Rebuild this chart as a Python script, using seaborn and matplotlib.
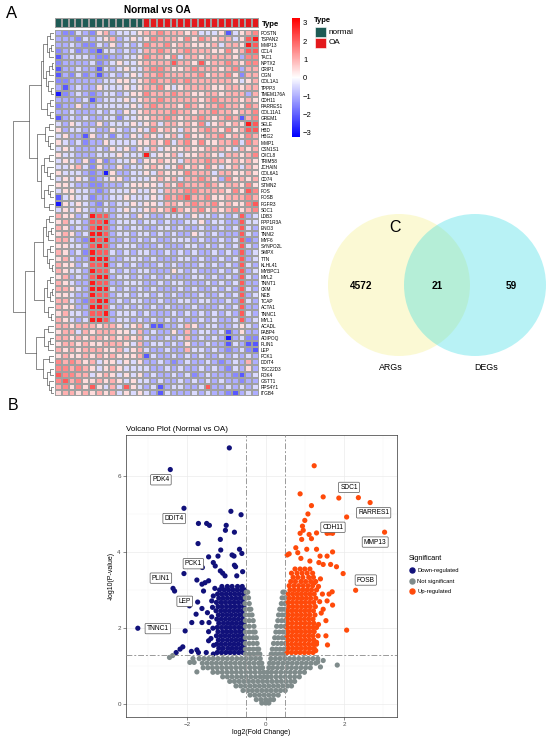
import numpy as np
import pandas as pd
import seaborn as sns
import matplotlib.pyplot as plt
from matplotlib.colors import LinearSegmentedColormap, ListedColormap
from matplotlib.patches import Circle
from matplotlib.lines import Line2D

plt.rcParams['font.family'] = ['Liberation Sans', 'DejaVu Sans']

W, H = 550, 738

# ---------------- panel A data ----------------
genes = ['POSTN', 'TSPAN2', 'MMP13', 'CCL4', 'TAC1', 'NPTX2', 'CRIP1', 'OGN', 'COL1A1', 'TPPP3',
         'TMEM176A', 'CDH11', 'RARRES1', 'COL11A1', 'GREM1', 'SELE', 'HBD', 'HBG2', 'MMP1', 'CSN1S1',
         'CXCL8', 'TRIM58', 'JCHAIN', 'COL6A1', 'CD74', 'STMN2', 'FOS', 'FOSB', 'FGFR3', 'SDC1',
         'LDB3', 'PPP1R3A', 'ENO3', 'TNNI2', 'MYF6', 'SYNPO2L', 'SMPX', 'TTN', 'KLHL41', 'MYBPC1',
         'MYL2', 'TNNT1', 'CKM', 'NEB', 'TCAP', 'ACTA1', 'TNNC1', 'MYL1', 'ACADL', 'FABP4',
         'ADIPOQ', 'PLIN1', 'LEP', 'PCK1', 'DDIT4', 'TSC22D3', 'PDK4', 'GSTT1', 'RPS4Y1', 'ITGB4']
n_normal, n_oa = 13, 17
# z-score level per cell (digit -> level_values), normal | OA
level_values = [-2.9, -2.1, -1.5, -1.0, -0.45, 0.45, 1.0, 1.5, 2.1, 2.9]
heat_rows = [
    '3224325634445|66766656444514567', '3332434563454|57666575765664589',
    '3343224353434|76675665556466598', '2342321443434|66765676665575688',
    '1344432233445|76657466566665377', '2333342345445|66668665856676577',
    '1334331434544|67765567666567366', '1324231343454|66766666756675266',
    '2233333445545|67667676666665456', '3134335444545|66754566665566566',
    '0234323443455|76667665566566636', '3333413444545|66766666567666565',
    '2335334444454|67666576566766576', '3343334343545|66667665667665667',
    '1343433442445|56676566765676167', '4354335344454|56466565745656598',
    '5344343354345|47565465676575688', '4533153424354|65456475566756576',
    '5434233544445|56574675755667476', '4543334354535|46455565566654656',
    '5443334445444|94556455665466567', '4543525234453|55655466676656565',
    '4456425335344|56545756575456465', '5444323053344|54655576664665565',
    '4545423455344|45656466765375656', '5543322333455|55465766676566575',
    '4554432344454|45466677666657587', '1454423344544|45476786675566676',
    '0545432434454|55466567667565578', '4545433434544|56568656756567567',
    '6553498834435|43344435443434834', '5644388934443|44343344534433844',
    '6534389834344|33443433433434843', '5653499834434|43434335434333843',
    '6643298933434|34334443433434823', '5544389834443|33433344343434843',
    '6534298843434|43343434334343834', '5643399933444|34333443433434834',
    '6553488934343|33434333434343843', '6544398843434|43335434333434834',
    '5634389934434|34343334434343843', '6543398833444|33434433343434833',
    '6654399943434|34333434334343843', '5543398834434|43434333433434834',
    '6643289934344|33433443443343843', '6553399843434|34343334333434833',
    '5644388934443|43334343434343843', '6543499834434|34343433434334834',
    '6656665665456|41133465344334543', '5664656665546|34335363443413533',
    '6656566565656|43343463434303422', '5665655666546|34434353343314311',
    '6565666556456|43343364434323421', '5655656565556|14334343433434343',
    '7676564554545|33432343343234363', '7767654565444|43343433434324353',
    '8776645654545|34334342343332134', '7867556565454|43433434343433233',
    '6757585464854|34134433483343434', '5665656564545|43143334343321343',
]

# row dendrogram: (height, left, right), leaves = row index
t1 = (0.33, (0.26, (0.18, (0.10, 0, 1), (0.13, (0.07, 2, 3), 4)),
             (0.20, (0.12, (0.06, 5, 6), 7), (0.14, 8, (0.08, 9, 10)))),
      (0.17, (0.09, 11, 12), (0.10, 13, 14)))
t2 = (0.42, (0.22, (0.12, 15, 16), (0.15, 17, (0.10, 18, 19))),
      (0.32, (0.24, (0.13, 20, 21), (0.16, 22, (0.11, 23, 24))),
       (0.25, (0.14, 25, (0.09, 26, 27)), (0.12, 28, 29))))
t_mus = (0.50, (0.28, (0.20, (0.12, 30, 31), (0.15, (0.08, 32, 33), 34)),
                (0.18, (0.10, 35, 36), (0.12, 37, (0.06, 38, 39)))),
         (0.24, (0.16, (0.09, 40, 41), (0.10, (0.05, 42, 43), 44)), (0.14, 45, (0.07, 46, 47))))
t_fat = (0.45, (0.24, (0.14, 48, 49), (0.15, (0.09, 50, 51), 52)),
         (0.26, (0.13, 53, 54), (0.18, (0.10, 55, 56), (0.12, 57, (0.08, 58, 59)))))
row_tree = (1.0, (0.62, t1, t2), (0.72, t_mus, t_fat))

# ---------------- panel C data ----------------
venn_sets = ['ARGs', 'DEGs']
venn_counts = [4572, 21, 59]

# ---------------- panel B data ----------------
down_pts = [(-0.93, 6.75), (-0.89, 5.08), (-0.63, 4.99), (-1.72, 4.76), (-1.51, 4.76), (-1.44, 4.71),
            (-1.01, 4.71), (-1.03, 4.58), (-0.80, 4.53), (-1.16, 4.34), (-1.73, 4.23), (-1.15, 4.06),
            (-0.67, 4.08), (-0.61, 3.97), (-0.86, 3.93), (-0.81, 3.90), (-1.22, 3.90), (-1.46, 3.88),
            (-1.34, 3.73), (-1.29, 3.64), (-0.80, 3.66), (-0.77, 3.62), (-1.16, 3.51), (-1.10, 3.45),
            (-1.04, 3.38), (-0.74, 3.38), (-0.59, 3.49), (-2.09, 3.44), (-1.76, 3.27), (-1.55, 3.20),
            (-1.46, 3.25), (-1.63, 3.16), (-2.33, 2.98), (-1.59, 2.98), (-1.34, 2.85), (-1.38, 2.72),
            (-1.74, 2.69), (-1.63, 2.52), (-1.78, 2.37), (-1.49, 2.41), (-1.89, 2.15), (-1.63, 2.15),
            (-1.45, 2.15), (-2.06, 1.93), (-1.46, 1.91), (-1.40, 1.73), (-1.46, 1.67), (-2.12, 1.51),
            (-2.19, 1.45), (-2.29, 1.36), (-1.90, 1.39), (-1.76, 1.43), (-1.72, 1.36), (-1.52, 1.36),
            (-1.34, 1.32), (-1.38, 2.30), (-1.35, 2.00), (-1.33, 1.55), (-1.36, 2.55), (-1.30, 3.05)]
down_block = [
    (1.36, [-1.24, -1.13, -1.02, -0.91, -0.80, -0.69, -0.58]),
    (1.47, [-1.20, -1.09, -0.97, -0.86, -0.75, -0.64, -0.55]),
    (1.58, [-1.25, -1.14, -1.03, -0.92, -0.81, -0.70, -0.59]),
    (1.69, [-1.21, -1.10, -0.98, -0.87, -0.76, -0.65, -0.55]),
    (1.80, [-1.26, -1.15, -1.04, -0.93, -0.82, -0.71, -0.60]),
    (1.91, [-1.22, -1.10, -0.99, -0.88, -0.77, -0.66, -0.56]),
    (2.02, [-1.24, -1.13, -1.02, -0.91, -0.80, -0.69, -0.58]),
    (2.13, [-1.20, -1.08, -0.97, -0.86, -0.75, -0.64, -0.55]),
    (2.24, [-1.25, -1.14, -1.03, -0.92, -0.81, -0.70, -0.59]),
    (2.35, [-1.21, -1.10, -0.99, -0.88, -0.77, -0.66, -0.56]),
    (2.46, [-1.27, -1.15, -1.04, -0.93, -0.82, -0.71, -0.60]),
    (2.57, [-1.22, -1.11, -1.00, -0.89, -0.78, -0.67, -0.56]),
    (2.68, [-1.26, -1.14, -1.03, -0.92, -0.81, -0.70, -0.59]),
    (2.79, [-1.20, -1.09, -0.98, -0.87, -0.76, -0.65, -0.55]),
    (2.90, [-1.23, -1.12, -1.01, -0.90, -0.79, -0.68, -0.57]),
    (3.01, [-1.18, -1.06, -0.95, -0.84, -0.73, -0.62, -0.54]),
    (3.10, [-1.12, -0.98, -0.86, -0.72, -0.60]),
]
up_pts = [(1.24, 6.28), (0.88, 5.54), (1.47, 5.46), (1.87, 5.43), (1.17, 5.23), (1.08, 5.01),
          (2.07, 4.93), (1.00, 4.84), (0.94, 4.69), (0.96, 4.58), (1.57, 4.50), (1.71, 4.50),
          (1.30, 4.51), (0.88, 4.50), (0.92, 4.34), (1.11, 4.47), (1.17, 4.36), (0.60, 3.96),
          (0.55, 3.93), (0.77, 4.12), (0.82, 3.99), (1.05, 4.08), (1.30, 4.08), (1.39, 3.90),
          (1.71, 4.01), (1.57, 3.90), (0.90, 3.84), (1.13, 3.77), (1.36, 3.73), (1.47, 3.68),
          (1.66, 3.68), (1.81, 3.62), (1.98, 3.44), (1.70, 2.96), (1.62, 2.90), (1.57, 2.72),
          (1.71, 2.61), (1.47, 2.50), (1.54, 2.20), (2.07, 1.95), (1.34, 1.80), (1.54, 1.80),
          (1.30, 1.63), (1.58, 1.56), (1.28, 1.41), (1.25, 3.20), (1.35, 3.10), (1.40, 3.30),
          (1.45, 2.90), (1.38, 2.70), (1.42, 2.40), (1.35, 2.10)]
up_block = [
    (1.36, [0.55, 0.66, 0.77, 0.88, 0.99, 1.10, 1.21]),
    (1.47, [0.58, 0.69, 0.80, 0.91, 1.02, 1.13, 1.24]),
    (1.58, [0.55, 0.66, 0.77, 0.88, 0.99, 1.10, 1.21, 1.30]),
    (1.69, [0.57, 0.68, 0.79, 0.90, 1.01, 1.12, 1.23]),
    (1.80, [0.55, 0.66, 0.77, 0.88, 0.99, 1.10, 1.21]),
    (1.91, [0.58, 0.69, 0.80, 0.91, 1.02, 1.13, 1.24]),
    (2.02, [0.55, 0.66, 0.77, 0.88, 0.99, 1.10, 1.21, 1.30]),
    (2.13, [0.57, 0.68, 0.79, 0.90, 1.01, 1.12, 1.23]),
    (2.24, [0.55, 0.66, 0.77, 0.88, 0.99, 1.10, 1.21]),
    (2.35, [0.58, 0.69, 0.80, 0.91, 1.02, 1.13, 1.26]),
    (2.46, [0.56, 0.67, 0.78, 0.89, 1.00, 1.11, 1.22]),
    (2.57, [0.59, 0.70, 0.81, 0.92, 1.03, 1.14, 1.27]),
    (2.68, [0.57, 0.68, 0.79, 0.90, 1.01, 1.12, 1.23]),
    (2.79, [0.60, 0.71, 0.82, 0.93, 1.04, 1.15, 1.28]),
    (2.90, [0.58, 0.69, 0.80, 0.91, 1.02, 1.13, 1.24]),
    (3.01, [0.62, 0.73, 0.84, 0.95, 1.06, 1.17, 1.30]),
    (3.12, [0.60, 0.72, 0.84, 0.96, 1.08, 1.20]),
    (3.23, [0.64, 0.76, 0.90, 1.02, 1.15, 1.28]),
    (3.34, [0.70, 0.82, 0.95, 1.10, 1.22]),
    (3.45, [0.66, 0.80, 0.93, 1.06, 1.20]),
    (3.56, [0.75, 0.88, 1.00, 1.13]),
]
grey_pts = [(-2.46, 1.23), (-2.38, 1.28), (-1.94, 1.10), (-1.83, 1.10), (-1.76, 0.85),
            (-1.86, 1.20), (1.33, 1.11), (1.83, 1.03), (1.47, 1.15), (1.40, 0.98)]
grey_block = [
    (2.95, [-0.50, -0.46, 0.44, 0.48]),
    (2.80, [-0.52, -0.44, 0.42, 0.49]),
    (2.65, [-0.53, -0.42, 0.40, 0.49]),
    (2.50, [-0.52, -0.42, -0.38, 0.36, 0.42, 0.49]),
    (2.35, [-0.52, -0.42, -0.35, 0.33, 0.42, 0.50]),
    (2.20, [-0.52, -0.42, -0.32, 0.31, 0.41, 0.50]),
    (2.05, [-0.52, -0.42, -0.30, 0.28, 0.39, 0.49]),
    (1.90, [-0.52, -0.42, -0.32, -0.27, 0.26, 0.35, 0.44, 0.50]),
    (1.75, [-0.52, -0.42, -0.32, -0.24, 0.23, 0.32, 0.42, 0.50]),
    (1.60, [-0.52, -0.42, -0.32, -0.22, 0.20, 0.30, 0.40, 0.50]),
    (1.45, [-0.52, -0.42, -0.32, -0.22, -0.18, 0.17, 0.27, 0.37, 0.47]),
    (1.32, [-0.52, -0.42, -0.32, -0.22, -0.15, 0.14, 0.24, 0.34, 0.44, 0.50]),
    (1.20, [-1.70, -1.58, -1.46, -1.34, -1.22, -1.10, -0.98, -0.86, -0.74, -0.62, -0.50, -0.38,
            -0.26, -0.14, 0.13, 0.25, 0.37, 0.49, 0.61, 0.73, 0.85, 0.97, 1.09, 1.21, 1.33]),
    (1.08, [-1.62, -1.50, -1.38, -1.26, -1.14, -1.02, -0.90, -0.78, -0.66, -0.54, -0.42, -0.30,
            -0.18, -0.10, 0.10, 0.20, 0.32, 0.44, 0.56, 0.68, 0.80, 0.92, 1.04, 1.16, 1.28]),
    (0.96, [-1.60, -1.48, -1.36, -1.24, -1.12, -1.00, -0.88, -0.76, -0.64, -0.52, -0.40, -0.28,
            -0.16, -0.08, 0.08, 0.18, 0.30, 0.42, 0.54, 0.66, 0.78, 0.90, 1.02, 1.14]),
    (0.84, [-1.35, -1.23, -1.11, -0.99, -0.87, -0.75, -0.63, -0.51, -0.39, -0.27, -0.15, -0.05,
            0.05, 0.15, 0.27, 0.39, 0.51, 0.63, 0.75, 0.87, 0.99]),
    (0.72, [-1.10, -0.98, -0.86, -0.74, -0.62, -0.50, -0.38, -0.26, -0.14, -0.04, 0.04, 0.14,
            0.26, 0.38, 0.50, 0.62, 0.74, 0.86]),
    (0.60, [-0.92, -0.80, -0.68, -0.56, -0.44, -0.32, -0.20, -0.08, 0.04, 0.16, 0.28, 0.40,
            0.52, 0.64, 0.74]),
    (0.48, [-0.76, -0.64, -0.52, -0.40, -0.28, -0.16, -0.04, 0.08, 0.20, 0.32, 0.44, 0.56, 0.66]),
    (0.36, [-0.58, -0.46, -0.34, -0.22, -0.10, 0.02, 0.14, 0.26, 0.38, 0.50]),
    (0.24, [-0.40, -0.28, -0.16, -0.04, 0.08, 0.20, 0.32]),
    (0.12, [-0.24, -0.12, 0.00, 0.12, 0.20]),
    (0.03, [-0.10, 0.00, 0.08]),
]
label_genes = ['PDK4', 'DDIT4', 'PCK1', 'PLIN1', 'LEP', 'TNNC1',
               'SDC1', 'RARRES1', 'CDH11', 'MMP13', 'FOSB']
label_fc = [-2.44, -2.09, -1.62, -2.37, -1.95, -3.27, 2.37, 2.67, 1.64, 3.04, 2.30]
label_logp = [6.18, 5.16, 3.60, 3.05, 2.59, 2.00, 5.44, 5.31, 4.51, 4.53, 3.00]
label_tx = [-2.68, -2.34, -1.85, -2.68, -2.07, -2.76, 2.13, 2.76, 1.72, 2.80, 2.56]
label_ty = [5.91, 4.89, 3.70, 3.32, 2.71, 1.99, 5.71, 5.04, 4.66, 4.27, 3.27]
fc_cut, p_cut = 0.5, 0.05
groups = ['Down-regulated', 'Not significant', 'Up-regulated']
group_colors = ['#11117A', '#7F8B8B', '#FF4A0A']


def px_axes(fig, x0, y0, x1, y1):
    return fig.add_axes([x0 / W, 1 - y1 / H, (x1 - x0) / W, (y1 - y0) / H])


def draw_tree(ax, node):
    if isinstance(node, int):
        return node + 0.5, 0.0
    h, left, right = node
    y1, h1 = draw_tree(ax, left)
    y2, h2 = draw_tree(ax, right)
    ax.plot([h1, h, h, h2], [y1, y1, y2, y2], color='#4a4a4a', lw=0.45)
    return (y1 + y2) / 2, h


fig = plt.figure(figsize=(W / 100, H / 100), dpi=100)

# overlay for panel letters, legends and venn
ov = fig.add_axes([0, 0, 1, 1])
ov.set_xlim(0, W)
ov.set_ylim(H, 0)
ov.axis('off')

# ---------------- heatmap ----------------
mat = np.array([[level_values[int(c)] for c in r.replace('|', '')] for r in heat_rows])
types = ['normal'] * n_normal + ['OA'] * n_oa
hm_df = pd.DataFrame(mat, index=genes, columns=[f'{t}{i}' for i, t in enumerate(types)])
cmap = LinearSegmentedColormap.from_list('bwr_ph', ['#0000FF', '#FFFFFF', '#FF0000'])

ax_hm = px_axes(fig, 55, 29.5, 259, 396)
ax_cb = px_axes(fig, 292, 18.3, 299.5, 136.7)
sns.heatmap(hm_df, ax=ax_hm, cmap=cmap, vmin=-3.22, vmax=3.24, linewidths=0.3,
            linecolor='#a0a0a0', cbar_ax=ax_cb, cbar_kws={'ticks': [-3, -2, -1, 0, 1, 2, 3]},
            xticklabels=False, yticklabels=True)
ax_hm.yaxis.tick_right()
ax_hm.tick_params(axis='y', length=0, pad=1.5, labelsize=3.4, labelright=True, labelleft=False)
for t in ax_hm.get_yticklabels():
    t.set_rotation(0)
ax_hm.set_xlabel('')
ax_hm.set_ylabel('')
ax_cb.tick_params(labelsize=5.5, length=0, pad=2.5)
ax_hm.collections[0].colorbar.outline.set_visible(False)

# annotation bar
type_colors = ['#1E5B55', '#E3191C']
ax_an = px_axes(fig, 55, 18, 259, 28)
codes = np.array([[0 if t == 'normal' else 1 for t in types]])
sns.heatmap(codes, ax=ax_an, cmap=ListedColormap(type_colors), vmin=0, vmax=1, cbar=False,
            linewidths=0.3, linecolor='#a0a0a0', xticklabels=False, yticklabels=['Type'])
ax_an.yaxis.tick_right()
ax_an.tick_params(axis='y', length=0, pad=2, labelsize=5.6, labelright=True, labelleft=False)
for t in ax_an.get_yticklabels():
    t.set_rotation(0)
    t.set_fontweight('bold')

# dendrogram
ax_den = px_axes(fig, 3, 29.5, 54, 396)
draw_tree(ax_den, row_tree)
ax_den.set_ylim(len(genes), 0)
ax_den.set_xlim(1.25, 0)
ax_den.axis('off')

ov.text(157, 10, 'Normal vs OA', fontsize=7.3, fontweight='bold', ha='center', va='center')
ov.text(12, 13, 'A', fontsize=12, ha='center', va='center')

# type legend
ov.text(314, 21, 'Type', fontsize=5.5, fontweight='bold', ha='left', va='center')
for i, (lab, col) in enumerate(zip(['normal', 'OA'], type_colors)):
    ov.add_patch(plt.Rectangle((315, 26.5 + i * 11), 11, 10.5, fc=col, ec='white', lw=0.4))
    ov.text(329, 32 + i * 11, lab, fontsize=5.9, ha='left', va='center')

# ---------------- venn ----------------
ov.add_patch(Circle((399, 285), 71, fc=(240 / 255, 235 / 255, 90 / 255), alpha=0.26, ec='none'))
ov.add_patch(Circle((475, 285), 71, fc=(20 / 255, 215 / 255, 225 / 255), alpha=0.3, ec='none'))
for xx, n in zip([361, 437, 511], venn_counts):
    ov.text(xx, 286, str(n), fontsize=7.2, fontweight='bold', ha='center', va='center')
for xx, s in zip([391, 486], venn_sets):
    ov.text(xx, 367, s, fontsize=6.4, ha='center', va='center')
ov.text(395, 228, 'C', fontsize=11.5, ha='center', va='center')

# ---------------- volcano ----------------
rows = []
for x, y in down_pts + list(zip(label_fc[:6], label_logp[:6])):
    rows.append((x, y, groups[0]))
for y, xs in down_block:
    rows += [(x, y, groups[0]) for x in xs]
for x, y in grey_pts:
    rows.append((x, y, groups[1]))
for y, xs in grey_block:
    rows += [(x, y, groups[1]) for x in xs]
for x, y in up_pts + list(zip(label_fc[6:], label_logp[6:])):
    rows.append((x, y, groups[2]))
for y, xs in up_block:
    rows += [(x, y, groups[2]) for x in xs]
vdf = pd.DataFrame(rows, columns=['log2FC', 'logP', 'Significant'])

ax_v = px_axes(fig, 125.7, 435, 396.7, 716.7)
ax_v.set_axisbelow(True)
ax_v.set_xticks([-3, -1, 1, 3], minor=True)
ax_v.set_yticks([1, 3, 5, 7], minor=True)
ax_v.grid(True, which='major', color='#EBEBEB', lw=0.5)
ax_v.grid(True, which='minor', color='#F4F4F4', lw=0.3)
sns.scatterplot(data=vdf, x='log2FC', y='logP', hue='Significant', hue_order=groups,
                palette=dict(zip(groups, group_colors)), s=14, linewidth=0, ax=ax_v,
                legend=False, zorder=3)
for xv in (-fc_cut, fc_cut):
    ax_v.axvline(xv, color='#9a9a9a', lw=0.7, ls=(0, (6, 2, 2, 2)), zorder=4)
ax_v.axhline(-np.log10(p_cut), color='#9a9a9a', lw=0.7, ls=(0, (6, 2, 2, 2)), zorder=4)
for g, tx, ty in zip(label_genes, label_tx, label_ty):
    ax_v.text(tx, ty, g, fontsize=4.8, ha='center', va='center', zorder=5,
              bbox=dict(boxstyle='round,pad=0.25,rounding_size=0.15', fc='white', ec='#555555', lw=0.5))
ax_v.set_xlim(-3.58, 3.35)
ax_v.set_ylim(-0.33, 7.09)
ax_v.set_xticks([-2, 0, 2])
ax_v.set_yticks([0, 2, 4, 6])
ax_v.tick_params(which='major', labelsize=4.5, labelcolor='#4D4D4D', length=2, width=0.4,
                 color='#333333', pad=1.5)
ax_v.tick_params(which='minor', length=0)
for sp in ax_v.spines.values():
    sp.set_color('#333333')
    sp.set_linewidth(0.5)
ax_v.set_xlabel('log2(Fold Change)', fontsize=5, labelpad=1.5)
ax_v.set_ylabel('-log10(P-value)', fontsize=5, labelpad=2)
ax_v.set_title('Volcano Plot (Normal vs OA)', loc='left', fontsize=5.8, pad=3)

handles = [Line2D([], [], marker='o', ls='', color=c, markersize=3.6) for c in group_colors]
leg = ax_v.legend(handles, groups, title='Significant', loc='upper left',
                  bbox_to_anchor=(406 / W, 1 - 553 / H), bbox_transform=fig.transFigure,
                  frameon=False, fontsize=4.2, title_fontsize=5.2, handletextpad=0.3,
                  labelspacing=0.95, borderaxespad=0, handlelength=1.2)
leg._legend_box.align = 'left'

ov.text(13, 405, 'B', fontsize=11.5, ha='center', va='center')

fig.savefig('out.png', dpi=100)
